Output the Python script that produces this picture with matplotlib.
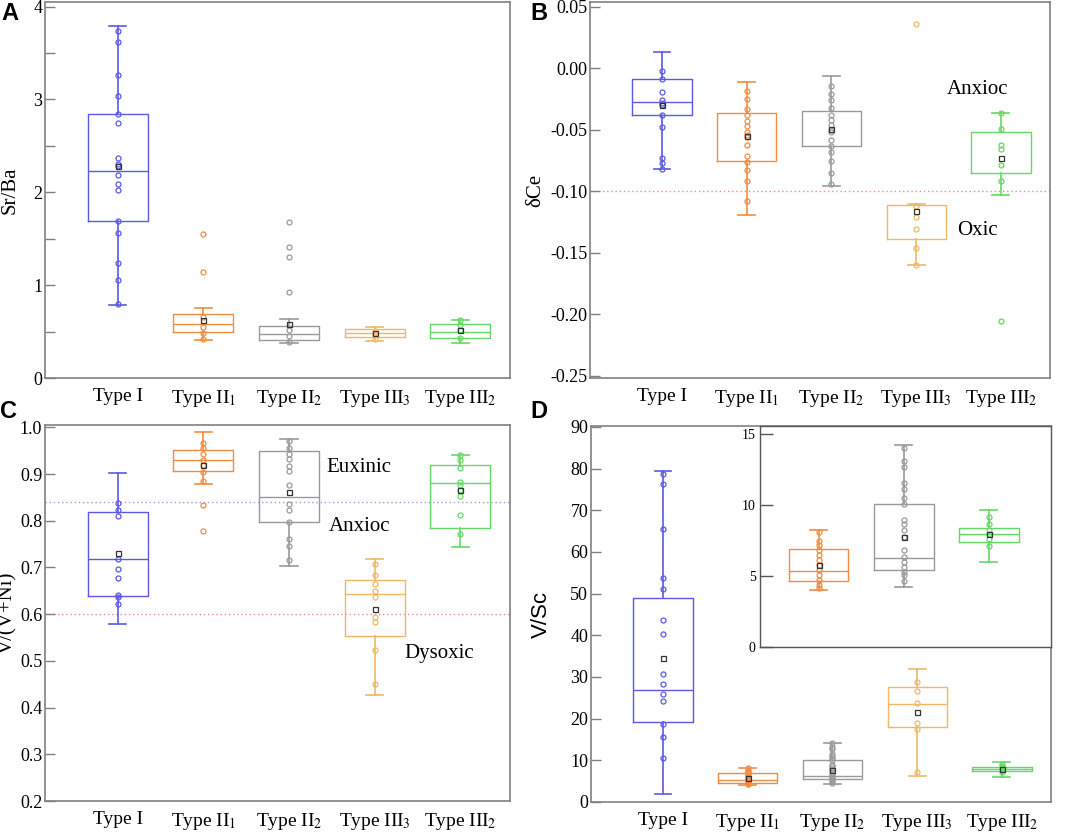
import numpy as np
import matplotlib
matplotlib.use("Agg")
import matplotlib.pyplot as plt
from matplotlib.ticker import MultipleLocator

plt.rcParams['font.family'] = ['Liberation Serif', 'DejaVu Serif']
plt.rcParams['mathtext.fontset'] = 'stix'

# ---------------- data ----------------
categories = ["Type I", "Type II$_1$", "Type II$_2$", "Type III$_3$", "Type III$_2$"]
colors = ["#5a5ae6", "#f28c40", "#9a9a9a", "#f0b866", "#66d866"]

# Panel A: Sr/Ba
SrBa_points = [
    [3.74, 3.62, 3.26, 3.04, 2.84, 2.75, 2.37, 2.31, 2.28, 2.19, 2.09, 2.02, 1.69, 1.56, 1.24, 1.06, 0.80],
    [1.548, 1.142, 0.66, 0.546, 0.48, 0.417],
    [1.681, 1.415, 1.307, 0.923, 0.514, 0.449, 0.385],
    [0.51, 0.485, 0.46, 0.425],
    [0.625, 0.567, 0.514, 0.43],
]
SrBa_q1 = [1.69, 0.496, 0.41, 0.445, 0.431]
SrBa_med = [2.227, 0.585, 0.47, 0.488, 0.492]
SrBa_q3 = [2.84, 0.69, 0.56, 0.525, 0.578]
SrBa_lo = [0.787, 0.41, 0.377, 0.402, 0.377]
SrBa_hi = [3.79, 0.754, 0.632, 0.55, 0.628]
SrBa_mean = [2.28, 0.625, 0.578, 0.485, 0.514]

# Panel B: delta Ce
dCe_points = [
    [-0.002, -0.009, -0.019, -0.026, -0.028, -0.030, -0.038, -0.048, -0.073, -0.077, -0.082],
    [-0.0187, -0.025, -0.033, -0.038, -0.043, -0.047, -0.052, -0.054, -0.056, -0.062, -0.071, -0.076, -0.083, -0.092, -0.108],
    [-0.014, -0.021, -0.026, -0.032, -0.038, -0.042, -0.046, -0.050, -0.052, -0.058, -0.063, -0.068, -0.075, -0.085, -0.094],
    [0.036, -0.112, -0.121, -0.131, -0.146, -0.160],
    [-0.036, -0.049, -0.062, -0.066, -0.079, -0.0915, -0.206],
]
dCe_q1 = [-0.038, -0.075, -0.063, -0.139, -0.085]
dCe_med = [-0.027, None, None, None, None]
dCe_q3 = [-0.0083, -0.036, -0.035, -0.111, -0.0515]
dCe_lo = [-0.082, -0.119, -0.096, -0.160, -0.103]
dCe_hi = [0.013, -0.0115, -0.0064, -0.110, -0.036]
dCe_mean = [-0.030, -0.055, -0.049, -0.116, -0.073]

# Panel C: V/(V+Ni)
VVNi_points = [
    [0.837, 0.824, 0.811, 0.718, 0.696, 0.678, 0.641, 0.636, 0.621],
    [0.967, 0.955, 0.943, 0.930, 0.920, 0.904, 0.885, 0.834, 0.779],
    [0.970, 0.956, 0.943, 0.933, 0.917, 0.906, 0.876, 0.836, 0.823, 0.797, 0.761, 0.745, 0.716],
    [0.708, 0.684, 0.665, 0.650, 0.636, 0.595, 0.583, 0.524, 0.450],
    [0.941, 0.929, 0.913, 0.884, 0.876, 0.866, 0.854, 0.813, 0.772],
]
VVNi_q1 = [0.639, 0.906, 0.798, 0.553, 0.784]
VVNi_med = [0.718, 0.929, 0.851, 0.644, 0.881]
VVNi_q3 = [0.819, 0.951, 0.949, 0.674, 0.919]
VVNi_lo = [0.579, 0.878, 0.703, 0.427, 0.744]
VVNi_hi = [0.902, 0.991, 0.976, 0.719, 0.941]
VVNi_mean = [0.732, 0.920, 0.861, 0.611, 0.866]

# Panel D: V/Sc
VSc_points = [
    [78.6, 76.2, 65.4, 53.8, 51.0, 43.6, 40.2, 30.7, 28.2, 25.9, 24.2, 18.6, 15.7, 10.5],
    [8.1, 7.49, 7.2, 6.85, 6.5, 6.13, 5.77, 5.42, 5.05, 4.72, 4.39, 4.2],
    [14.06, 13.12, 12.68, 11.6, 11.13, 10.54, 10.07, 8.97, 8.69, 8.24, 7.75, 6.85, 6.38, 6.03, 5.66, 5.28, 5.09, 4.67],
    [28.8, 26.7, 23.8, 19.0, 17.6, 7.2],
    [9.18, 8.71, 8.29, 7.98, 7.63, 7.16],
]
VSc_q1 = [19.3, 4.67, 5.42, 18.1, 7.39]
VSc_med = [26.9, 5.38, 6.27, 23.6, 7.98]
VSc_q3 = [49.0, 6.90, 10.07, 27.7, 8.40]
VSc_lo = [1.8, 4.01, 4.23, 6.2, 6.01]
VSc_hi = [79.3, 8.26, 14.25, 31.8, 9.65]
VSc_mean = [34.6, 5.77, 7.75, 21.5, 7.98]
inset_idx = [1, 2, 4]

# ---------------- drawing ----------------
fig = plt.figure(figsize=(10.65, 8.32), dpi=100)

W, H = 1065.0, 832.0


def add_ax(l, t, r, b):
    return fig.add_axes([l / W, 1 - b / H, (r - l) / W, (b - t) / H])


def style_axes(ax, spine_color="#808080", lw=1.2):
    for s in ax.spines.values():
        s.set_color(spine_color)
        s.set_linewidth(lw)
    ax.tick_params(axis='y', which='both', direction='in', length=7, width=1.0,
                   color=spine_color, labelsize=13, pad=2)
    ax.tick_params(axis='x', which='both', length=0, labelsize=14, pad=7)


def draw_group(ax, pos, pts, q1, med, q3, lo, hi, mean, c):
    stats = dict(q1=q1, med=(med if med is not None else q1), q3=q3,
                 whislo=lo, whishi=hi, fliers=[])
    ax.bxp([stats], positions=[pos], widths=0.7, capwidths=0.2, showfliers=False,
           boxprops=dict(color=c, linewidth=1.0),
           whiskerprops=dict(color=c, linewidth=1.2),
           capprops=dict(color=c, linewidth=1.2),
           medianprops=dict(color=c, linewidth=1.0, visible=med is not None),
           manage_ticks=False, zorder=2)
    ax.plot(np.full(len(pts), pos), pts, 'o', mfc='none', mec=c, ms=3.6,
            mew=0.9, zorder=3, linestyle='none')
    ax.plot([pos], [mean], 's', mfc='none', mec='#333333', ms=3.6, mew=0.9,
            zorder=4, linestyle='none')


def draw_panel(ax, pts, q1, med, q3, lo, hi, mean, idxs=None, positions=None):
    if idxs is None:
        idxs = range(len(categories))
    if positions is None:
        positions = [i + 1 for i in idxs]
    for i, p in zip(idxs, positions):
        draw_group(ax, p, pts[i], q1[i], med[i], q3[i], lo[i], hi[i], mean[i], colors[i])


xpos = np.arange(1, len(categories) + 1)

# Panel A
axA = add_ax(45, 2, 510, 378)
draw_panel(axA, SrBa_points, SrBa_q1, SrBa_med, SrBa_q3, SrBa_lo, SrBa_hi, SrBa_mean)
axA.set_xlim(0.15, 5.58)
axA.set_ylim(0, 4.05)
axA.yaxis.set_major_locator(MultipleLocator(1))
axA.yaxis.set_minor_locator(MultipleLocator(0.5))
axA.set_xticks(xpos)
axA.set_xticklabels(categories)
style_axes(axA)
axA.set_ylabel("Sr/Ba", fontsize=15)
axA.yaxis.set_label_coords(-0.054, 0.5)

# Panel B
axB = add_ax(590, 2, 1050, 378)
draw_panel(axB, dCe_points, dCe_q1, dCe_med, dCe_q3, dCe_lo, dCe_hi, dCe_mean)
axB.axhline(-0.10, color="#f08a8a", linestyle=(0, (1, 2)), linewidth=1.0, zorder=1)
axB.set_xlim(0.15, 5.58)
axB.set_ylim(-0.252, 0.054)
axB.yaxis.set_major_locator(MultipleLocator(0.05))
axB.yaxis.set_major_formatter(plt.FuncFormatter(lambda v, p: f"{v:.2f}"))
axB.set_xticks(xpos)
axB.set_xticklabels(categories)
style_axes(axB)
axB.set_ylabel("δCe", fontsize=15)
axB.yaxis.set_label_coords(-0.098, 0.5)
axB.text(4.72, -0.0176, "Anxioc", fontsize=15, ha='center', va='center')
axB.text(4.72, -0.132, "Oxic", fontsize=15, ha='center', va='center')

# Panel C
axC = add_ax(45, 425, 510, 801)
draw_panel(axC, VVNi_points, VVNi_q1, VVNi_med, VVNi_q3, VVNi_lo, VVNi_hi, VVNi_mean)
axC.axhline(0.84, color="#9a9ae8", linestyle=(0, (1, 2)), linewidth=1.0, zorder=1)
axC.axhline(0.60, color="#f08a8a", linestyle=(0, (1, 2)), linewidth=1.0, zorder=1)
axC.set_xlim(0.15, 5.58)
axC.set_ylim(0.2, 1.005)
axC.yaxis.set_major_locator(MultipleLocator(0.1))
axC.yaxis.set_major_formatter(plt.FuncFormatter(lambda v, p: f"{v:.1f}"))
axC.set_xticks(xpos)
axC.set_xticklabels(categories)
style_axes(axC)
axC.set_ylabel("V/(V+Ni)", fontsize=15)
axC.yaxis.set_label_coords(-0.06, 0.5)
axC.text(3.81, 0.914, "Euxinic", fontsize=15, ha='center', va='center')
axC.text(3.82, 0.788, "Anxioc", fontsize=15, ha='center', va='center')
axC.text(4.75, 0.516, "Dysoxic", fontsize=15, ha='center', va='center')

# Panel D
axD = add_ax(591, 426, 1051, 802)
draw_panel(axD, VSc_points, VSc_q1, VSc_med, VSc_q3, VSc_lo, VSc_hi, VSc_mean)
axD.set_xlim(0.15, 5.58)
axD.set_ylim(0, 90.2)
axD.yaxis.set_major_locator(MultipleLocator(10))
axD.set_xticks(xpos)
axD.set_xticklabels(categories)
style_axes(axD)
axD.set_ylabel("V/Sc", fontsize=16, family=['Liberation Sans', 'DejaVu Sans'])
axD.yaxis.set_label_coords(-0.085, 0.5)

# Inset in D
axI = add_ax(760, 426, 1051, 647)
draw_panel(axI, VSc_points, VSc_q1, VSc_med, VSc_q3, VSc_lo, VSc_hi, VSc_mean,
           idxs=inset_idx, positions=[1, 2, 3])
axI.set_xlim(0.31, 3.73)
axI.set_ylim(0, 15.6)
axI.yaxis.set_major_locator(MultipleLocator(5))
axI.set_xticks([])
for s in axI.spines.values():
    s.set_color("#555555")
    s.set_linewidth(1.0)
axI.tick_params(axis='y', direction='in', length=9, width=1.0, color="#555555",
                labelsize=10, pad=3)
axI.set_facecolor('white')

# Panel letters
for lab, (x, y) in {"A": (10, 13), "B": (539, 13), "C": (9, 411), "D": (539, 411)}.items():
    fig.text(x / W, 1 - y / H, lab, fontsize=17, fontweight='bold',
             family=['Liberation Sans', 'DejaVu Sans'], ha='center', va='center')

fig.savefig("out.png", dpi=100)
